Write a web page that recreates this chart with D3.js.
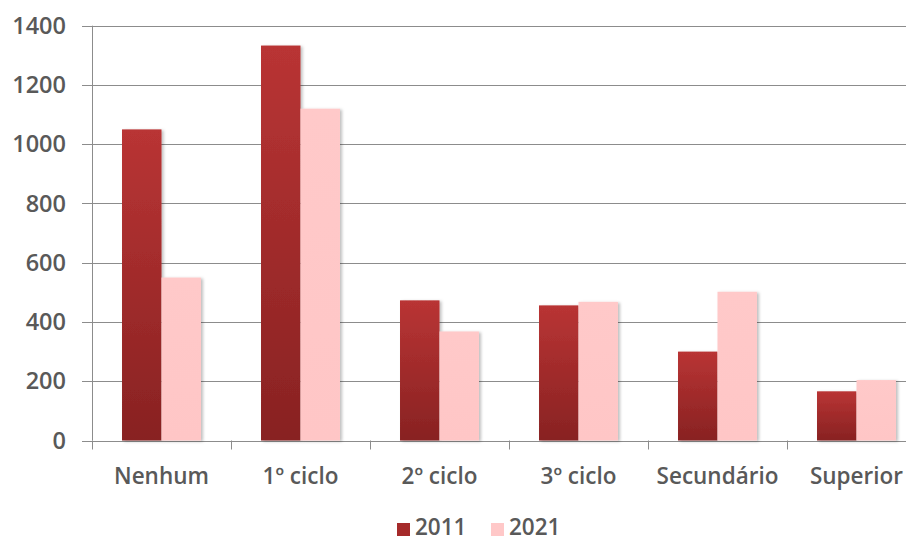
<!DOCTYPE html>
<html>
<head>
<meta charset="utf-8">
<script src="https://cdn.jsdelivr.net/npm/d3@7"></script>
<style>
  html, body { margin: 0; padding: 0; background: #fff; }
  svg { display: block; }
  text { font-family: "Open Sans", "DejaVu Sans", sans-serif; fill: #595959; font-weight: 600; }
</style>
</head>
<body>
<div id="chart"></div>
<script>
// Population by education level, 2011 vs 2021
const categories = ["Nenhum", "1º ciclo", "2º ciclo", "3º ciclo", "Secundário", "Superior"];
const series2011 = [1050, 1333, 473, 456, 300, 166];
const series2021 = [550, 1120, 368, 468, 502, 204];
const yTicks = [0, 200, 400, 600, 800, 1000, 1200, 1400];
const seriesNames = ["2011", "2021"];

const W = 906, H = 541;
const margin = { left: 92 };
const plotRight = 926; // plot continues slightly past the visible edge

const svg = d3.select("#chart").append("svg").attr("width", W).attr("height", H);

const defs = svg.append("defs");
const grad = defs.append("linearGradient").attr("id", "g2011")
  .attr("x1", 0).attr("y1", 0).attr("x2", 0).attr("y2", 1);
grad.append("stop").attr("offset", "0%").attr("stop-color", "#b93434");
grad.append("stop").attr("offset", "100%").attr("stop-color", "#882222");
const grad2 = defs.append("linearGradient").attr("id", "g2021")
  .attr("x1", 0).attr("y1", 0).attr("x2", 0).attr("y2", 1);
grad2.append("stop").attr("offset", "0%").attr("stop-color", "#ffc9c9");
grad2.append("stop").attr("offset", "100%").attr("stop-color", "#ffc6c6");
const shadow = defs.append("filter").attr("id", "shadow")
  .attr("x", "-20%").attr("y", "-5%").attr("width", "150%").attr("height", "115%");
shadow.append("feDropShadow").attr("dx", 2).attr("dy", 1).attr("stdDeviation", 1.5)
  .attr("flood-color", "#000").attr("flood-opacity", 0.25);

const y = d3.scaleLinear().domain([0, 1400]).range([440.5, 25.7]);
const x = d3.scaleBand().domain(categories).range([margin.left, plotRight]).paddingInner(0).paddingOuter(0);
const x1 = d3.scaleBand().domain(seriesNames).range([0, x.bandwidth()]).paddingOuter(0.76).paddingInner(0);

// Gridlines with left tick stubs
svg.append("g").selectAll("line").data(yTicks).join("line")
  .attr("x1", 82).attr("x2", W)
  .attr("y1", d => Math.round(y(d)) + 0.5).attr("y2", d => Math.round(y(d)) + 0.5)
  .attr("stroke", "#8c8c8c").attr("stroke-width", 1);

// Y axis labels
svg.append("g").selectAll("text").data(yTicks).join("text")
  .attr("x", 66).attr("y", d => y(d)).attr("dy", "0.35em")
  .attr("text-anchor", "end").attr("font-size", 23.5)
  .text(d => d);

// Y axis line
svg.append("line").attr("x1", margin.left + 0.5).attr("x2", margin.left + 0.5)
  .attr("y1", y(1400)).attr("y2", y(0)).attr("stroke", "#8c8c8c");

// Category tick marks
svg.append("g").selectAll("line").data(categories).join("line")
  .attr("x1", d => Math.round(x(d)) + 0.5).attr("x2", d => Math.round(x(d)) + 0.5)
  .attr("y1", y(0)).attr("y2", y(0) + 9).attr("stroke", "#8c8c8c");

// Bars
const data = categories.map((c, i) => ({ cat: c, vals: [
  { key: "2011", v: series2011[i] }, { key: "2021", v: series2021[i] } ] }));

const groups = svg.append("g").selectAll("g").data(data).join("g")
  .attr("transform", d => `translate(${x(d.cat)},0)`);
groups.selectAll("rect").data(d => d.vals).join("rect")
  .attr("x", d => x1(d.key)).attr("width", x1.bandwidth())
  .attr("y", d => y(d.v)).attr("height", d => y(0) - y(d.v))
  .attr("fill", d => d.key === "2011" ? "url(#g2011)" : "url(#g2021)")
  .attr("filter", "url(#shadow)");

// X labels
svg.append("g").selectAll("text").data(categories).join("text")
  .attr("x", d => x(d) + x.bandwidth() / 2).attr("y", 476).attr("dy", "0.35em")
  .attr("text-anchor", "middle").attr("font-size", 22.5)
  .text(d => d);

// Legend
const legend = svg.append("g");
const legendItems = [
  { name: seriesNames[0], fill: "#a52a2a", x: 397 },
  { name: seriesNames[1], fill: "#ffc8c8", x: 491 }
];
legendItems.forEach(it => {
  legend.append("rect").attr("x", it.x).attr("y", 523).attr("width", 13).attr("height", 13).attr("fill", it.fill);
  legend.append("text").attr("x", it.x + 18).attr("y", 527).attr("dy", "0.35em")
    .attr("font-size", 22.5).text(it.name);
});
</script>
</body>
</html>
